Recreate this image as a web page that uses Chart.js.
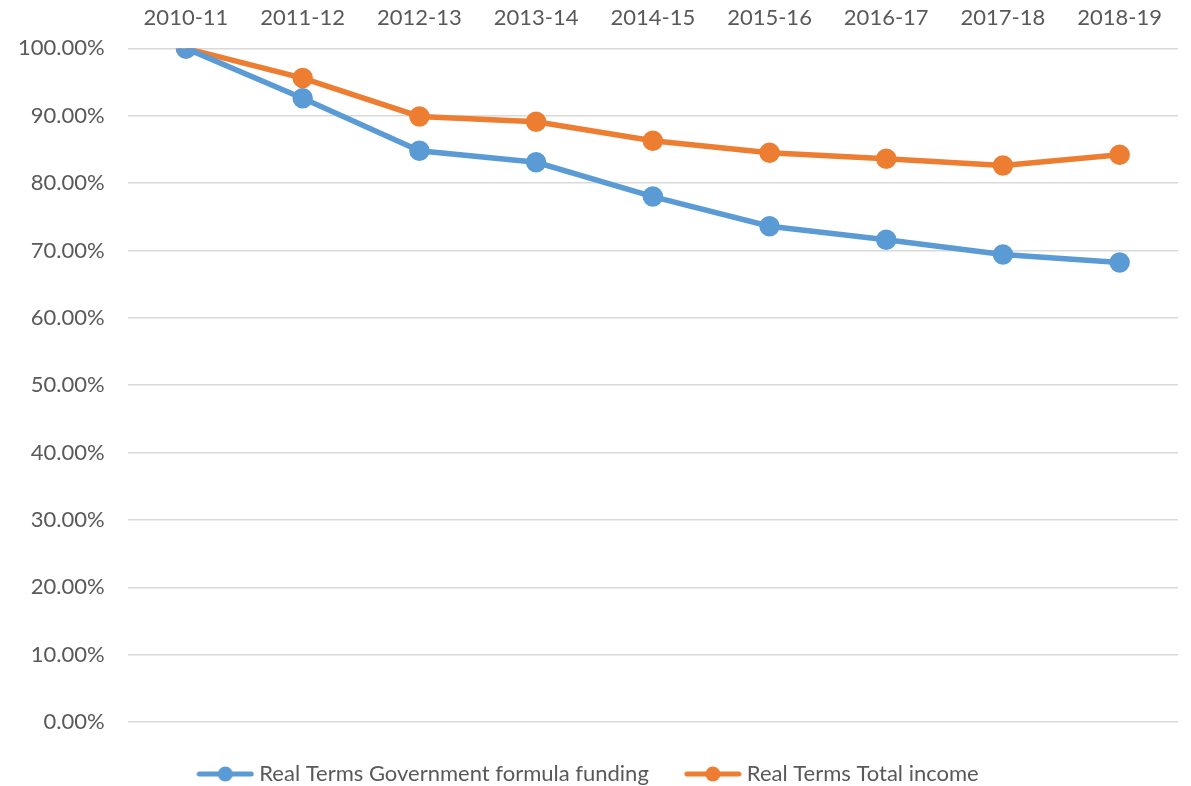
<!DOCTYPE html>
<html>
<head>
<meta charset="utf-8">
<script src="https://cdn.jsdelivr.net/npm/chart.js@4/dist/chart.umd.min.js"></script>
<style>
  html, body { margin: 0; padding: 0; background: #fff; }
  #wrap { width: 1191px; height: 786px; }
</style>
</head>
<body>
<div id="wrap"><canvas id="chart" width="1191" height="786"></canvas></div>
<script>
// ===== Data =====
const years = ["2010-11", "2011-12", "2012-13", "2013-14", "2014-15", "2015-16", "2016-17", "2017-18", "2018-19"];
const formulaFunding = [100.0, 92.6, 84.8, 83.1, 78.0, 73.6, 71.6, 69.4, 68.2];
const totalIncome = [100.0, 95.6, 89.9, 89.1, 86.3, 84.5, 83.6, 82.6, 84.2];

const BLUE = "#5B9BD5";
const ORANGE = "#ED7D31";
const TEXT = "#595959";
const FONT = "Lato, 'Open Sans', sans-serif";

// legend marker: line with a dot in the middle
function legendMarker(color) {
  const c = document.createElement("canvas");
  c.width = 58;
  c.height = 18;
  const g = c.getContext("2d");
  g.strokeStyle = color;
  g.lineWidth = 5;
  g.lineCap = "round";
  g.beginPath();
  g.moveTo(3, 9);
  g.lineTo(55, 9);
  g.stroke();
  g.fillStyle = color;
  g.beginPath();
  g.arc(29, 9, 7.5, 0, Math.PI * 2);
  g.fill();
  return c;
}

const ctx = document.getElementById("chart").getContext("2d");
const chart = new Chart(ctx, {
  type: "line",
  data: {
    labels: years,
    datasets: [
      {
        label: "Real Terms Government formula funding",
        data: formulaFunding,
        borderColor: BLUE,
        backgroundColor: BLUE,
        borderWidth: 5.5,
        pointRadius: 7.5,
        pointHoverRadius: 7.5,
        tension: 0
      },
      {
        label: "Real Terms Total income",
        data: totalIncome,
        borderColor: ORANGE,
        backgroundColor: ORANGE,
        borderWidth: 5.5,
        pointRadius: 7.5,
        pointHoverRadius: 7.5,
        tension: 0
      }
    ]
  },
  options: {
    responsive: false,
    animation: false,
    layout: { padding: { left: -5, right: 5, top: -12, bottom: -9 } },
    plugins: {
      tooltip: { enabled: false },
      legend: {
        position: "bottom",
        labels: {
          usePointStyle: true,
          pointStyleWidth: 46,
          color: TEXT,
          font: { family: FONT, size: 22 },
          padding: 41,
          generateLabels: (chart) => {
            const base = Chart.defaults.plugins.legend.labels.generateLabels(chart);
            return base.map((item, i) => {
              item.pointStyle = legendMarker(i === 0 ? BLUE : ORANGE);
              return item;
            });
          }
        }
      }
    },
    scales: {
      x: {
        position: "top",
        offset: true,
        grid: { display: false, drawTicks: false },
        border: { display: false },
        ticks: { color: TEXT, font: { family: FONT, size: 22 }, padding: 17, maxRotation: 0 }
      },
      y: {
        min: 0,
        max: 100,
        grid: { color: "#D9D9D9", lineWidth: 1.5, drawTicks: false },
        border: { display: false },
        ticks: {
          stepSize: 10,
          color: TEXT,
          font: { family: FONT, size: 22 },
          padding: 23,
          callback: (v) => v.toFixed(2) + "%"
        }
      }
    }
  }
});
</script>
</body>
</html>
